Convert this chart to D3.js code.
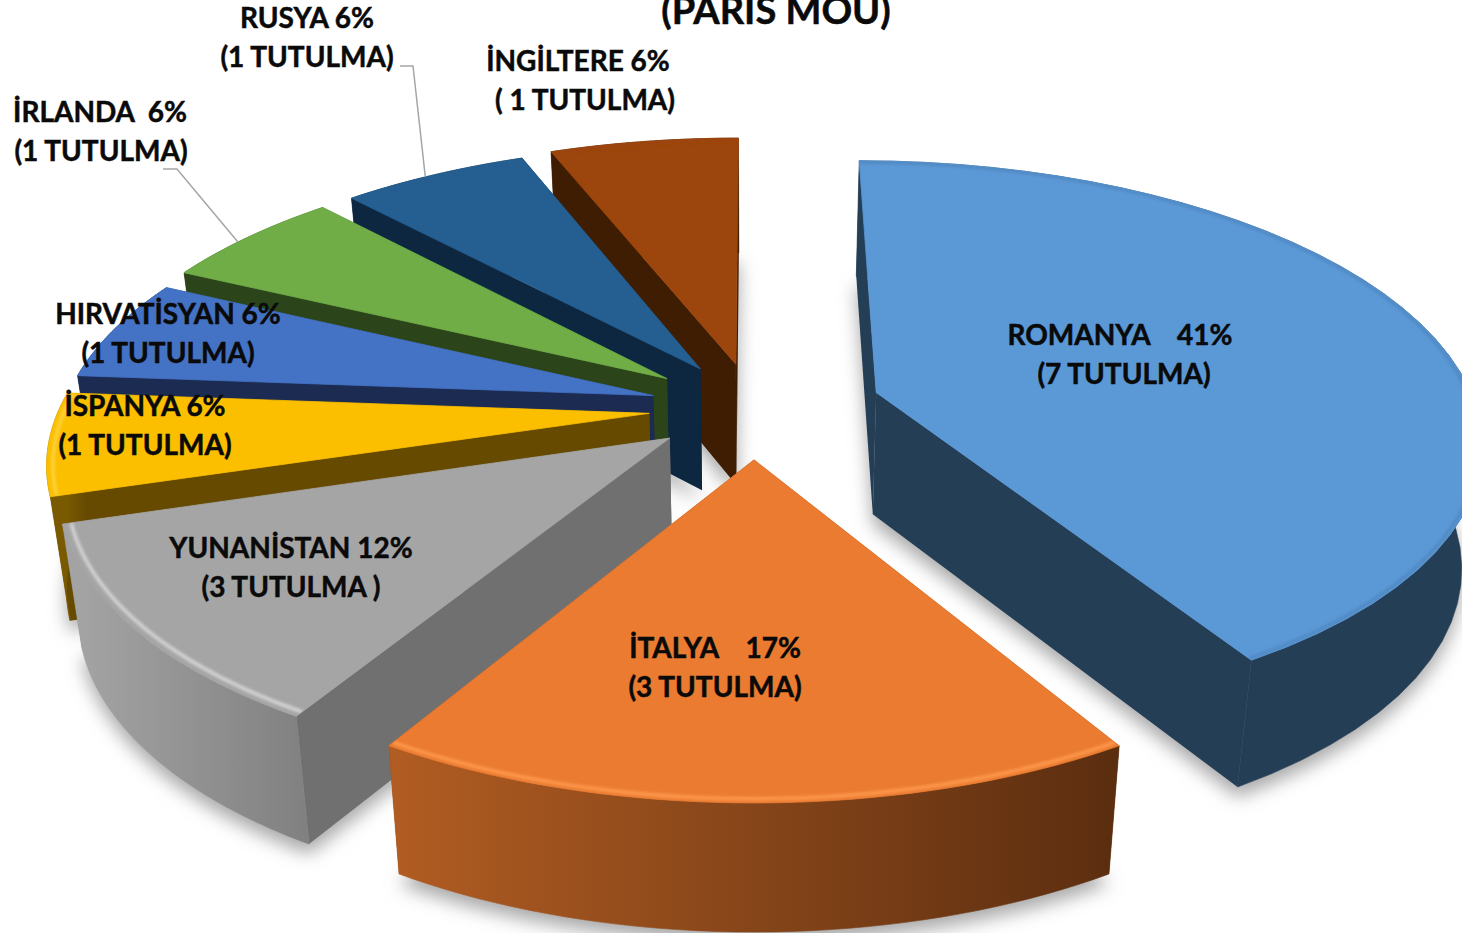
<!DOCTYPE html>
<html>
<head>
<meta charset="utf-8">
<script src="https://cdn.jsdelivr.net/npm/d3@7"></script>
<style>
  html, body { margin: 0; padding: 0; background: #fff; overflow: hidden; }
  text { font-family: Lato, "Open Sans", sans-serif; font-weight: 700; fill: #0a0a0a; stroke: #0a0a0a; stroke-width: 0.5px; white-space: pre; }
</style>
</head>
<body>
<svg id="svg_main" width="1462" height="933"></svg>
<script>
// data
const countries = ['ROMANYA', 'İTALYA', 'YUNANİSTAN', 'İSPANYA', 'HIRVATİSYAN', 'İRLANDA', 'RUSYA', 'İNGİLTERE'];
const shares = [41.4, 17.25, 11.65, 5.95, 5.95, 5.95, 5.95, 5.95];
const labelLines = [
  ['ROMANYA    41%', '(7 TUTULMA)'],
  ['İTALYA    17%', '(3 TUTULMA)'],
  ['YUNANİSTAN 12%', '(3 TUTULMA )'],
  ['İSPANYA 6%', '(1 TUTULMA)'],
  ['HIRVATİSYAN 6%', '(1 TUTULMA)'],
  ['İRLANDA  6%', '(1 TUTULMA)'],
  ['RUSYA 6%', '(1 TUTULMA)'],
  ['İNGİLTERE 6%', '( 1 TUTULMA)']
];
const titleText = '(PARIS MOU)';

// colours per slice
const topColors = ['#5b98d6', '#ea7b31', '#a5a5a5', '#fbbf00', '#4472c4', '#70ad47', '#255e91', '#9c450c'];
const faceColors = ['#243e55', '#5e2f10', '#707070', '#664a00', '#1b2b52', '#2c4419', '#0e2740', '#3e1d03'];
const wallLeft = ['#243e55', '#b05c22', '#a3a3a3', '#7a5a00', '#1b2b52', '#2c4419', '#0e2740', '#3e1d03'];
const wallRight = ['#243e55', '#5c2e10', '#808080', '#664a00', '#1b2b52', '#2c4419', '#0e2740', '#3e1d03'];
const rimColors = ['#5089c2', '#ff9a4d', '#d6d6d6', '#ffd23c', '#4472c4', '#70ad47', '#255e91', '#9c450c'];

// how far each slice is pulled out, and its radius
const explode = [128, 110, 105, 105, 105, 110, 103, 100];
const radii = [600, 590, 590, 590, 590, 590, 596, 605];
const rimInset = [3, 6, 8, 6, 6, 6, 6, 6];

// label anchors (center x of each line, first baseline)
const labelX = [[1120, 1124], [715, 715], [291, 291], [145, 145], [168, 168], [100, 101], [307, 307], [578, 585]];
const labelY = [345, 658, 558, 416, 324, 122, 28, 71];
const lineGap = 39;

// 3d setup
const cx = 754, cy = 408, tilt = 0.457, persp = 3684, depth = 122;

const svg = d3.select('#svg_main');
const defs = svg.append('defs');

defs.append('filter').attr('id', 'shadowBlur')
  .attr('x', '-20%').attr('y', '-20%').attr('width', '140%').attr('height', '140%')
  .append('feGaussianBlur').attr('stdDeviation', 9);
defs.append('filter').attr('id', 'rimBlur')
  .attr('x', '-10%').attr('y', '-10%').attr('width', '120%').attr('height', '120%')
  .append('feGaussianBlur').attr('stdDeviation', 1.6);

// ground plane to screen, z = 0 is the top of the pie, z = 1 the bottom
function project(X, Y, z) {
  const s = 1 / (1 - Y / persp);
  const x = cx + X * s;
  const y = cy + tilt * Y * s;
  if (!z) return [x, y];
  return [cx + (x - cx) * (1 - 0.028 * z), y + z * depth * (1 + Y / 12000)];
}

const pie = d3.pie().sort(null).startAngle(0).endAngle(2 * Math.PI);
const slices = pie(shares).map((d, i) => {
  const mid = (d.startAngle + d.endAngle) / 2;
  const ox = explode[i] * Math.sin(mid);
  const oy = -explode[i] * Math.cos(mid);
  const ang = d3.range(0, 41).map(k => d.startAngle + (d.endAngle - d.startAngle) * k / 40);
  const at = (a, z, r) => project(ox + r * Math.sin(a), oy - r * Math.cos(a), z);
  return {
    i, mid, ox, oy,
    apex: project(ox, oy, 0),
    apexLow: project(ox, oy, 1),
    rimTop: ang.map(a => at(a, 0, radii[i])),
    rimLow: ang.map(a => at(a, 1, radii[i])),
    rimIn: ang.map(a => at(a, 0, radii[i] - rimInset[i]))
  };
});

const line = d3.line();

// shadows on the floor
svg.append('g').selectAll('path').data(slices)
  .join('path')
  .attr('d', d => line([d.apexLow, ...d.rimLow]) + 'Z')
  .attr('transform', 'translate(0,10)')
  .attr('fill', '#a8a8a8')
  .attr('filter', 'url(#shadowBlur)');

// wall gradients and clip for the top faces
slices.forEach(d => {
  const xs = d3.extent(d.rimLow, p => p[0]);
  const g = defs.append('linearGradient').attr('id', `wall_${d.i}`)
    .attr('gradientUnits', 'userSpaceOnUse')
    .attr('x1', xs[0]).attr('x2', xs[1]).attr('y1', 0).attr('y2', 0);
  g.append('stop').attr('offset', 0).attr('stop-color', wallLeft[d.i]);
  g.append('stop').attr('offset', 1).attr('stop-color', wallRight[d.i]);
  defs.append('clipPath').attr('id', `top_${d.i}`)
    .append('path').attr('d', line([d.apex, ...d.rimTop]) + 'Z');
});

// painter order, back slices first
const order = slices.slice().sort((a, b) => a.apex[1] - b.apex[1]);

const groups = svg.append('g').selectAll('g').data(order)
  .join('g');

// start cut face
groups.append('path')
  .attr('d', d => line([d.apex, d.rimTop[0], d.rimLow[0], d.apexLow]) + 'Z')
  .attr('fill', d => faceColors[d.i]);

// end cut face
groups.append('path')
  .attr('d', d => line([d.apex, d.rimTop[40], d.rimLow[40], d.apexLow]) + 'Z')
  .attr('fill', d => faceColors[d.i]);

// outer wall
groups.append('path')
  .attr('d', d => line([...d.rimTop, ...d.rimLow.slice().reverse()]) + 'Z')
  .attr('fill', d => `url(#wall_${d.i})`)
  .attr('stroke', d => `url(#wall_${d.i})`)
  .attr('stroke-width', 0.6);

// top
groups.append('path')
  .attr('d', d => line([d.apex, ...d.rimTop]) + 'Z')
  .attr('fill', d => topColors[d.i])
  .attr('stroke', d => topColors[d.i])
  .attr('stroke-width', 0.8);

// soft rim highlight, kept inside the top face
groups.append('g')
  .attr('clip-path', d => `url(#top_${d.i})`)
  .append('path')
  .attr('d', d => line(d.rimIn))
  .attr('fill', 'none')
  .attr('stroke', d => rimColors[d.i])
  .attr('stroke-width', 3.5)
  .attr('filter', 'url(#rimBlur)');

// leader lines for the two outside labels
const leaders = [
  { slice: 6, from: [[400, 66], [413, 66]], frac: 0.45 },
  { slice: 5, from: [[163, 169], [177, 169]], frac: 0.42 }
];
svg.append('g').selectAll('path').data(leaders)
  .join('path')
  .attr('d', d => {
    const s = slices[d.slice];
    return line([...d.from, s.rimTop[Math.round(40 * d.frac)]]);
  })
  .attr('fill', 'none')
  .attr('stroke', '#a6a6a6')
  .attr('stroke-width', 1.5);

// labels
const labels = svg.append('g').selectAll('g').data(labelLines).join('g');
labels.selectAll('text').data((d, i) => d.map((t, k) => ({ t, k, i })))
  .join('text')
  .attr('x', d => labelX[d.i][d.k])
  .attr('y', d => labelY[d.i] + d.k * lineGap)
  .attr('text-anchor', 'middle')
  .attr('font-size', 28)
  .text(d => d.t);

// title, cut by the top of the page as in the source
svg.append('text')
  .attr('x', 776).attr('y', 24)
  .attr('text-anchor', 'middle')
  .attr('font-size', 38)
  .text(titleText);
</script>
</body>
</html>
